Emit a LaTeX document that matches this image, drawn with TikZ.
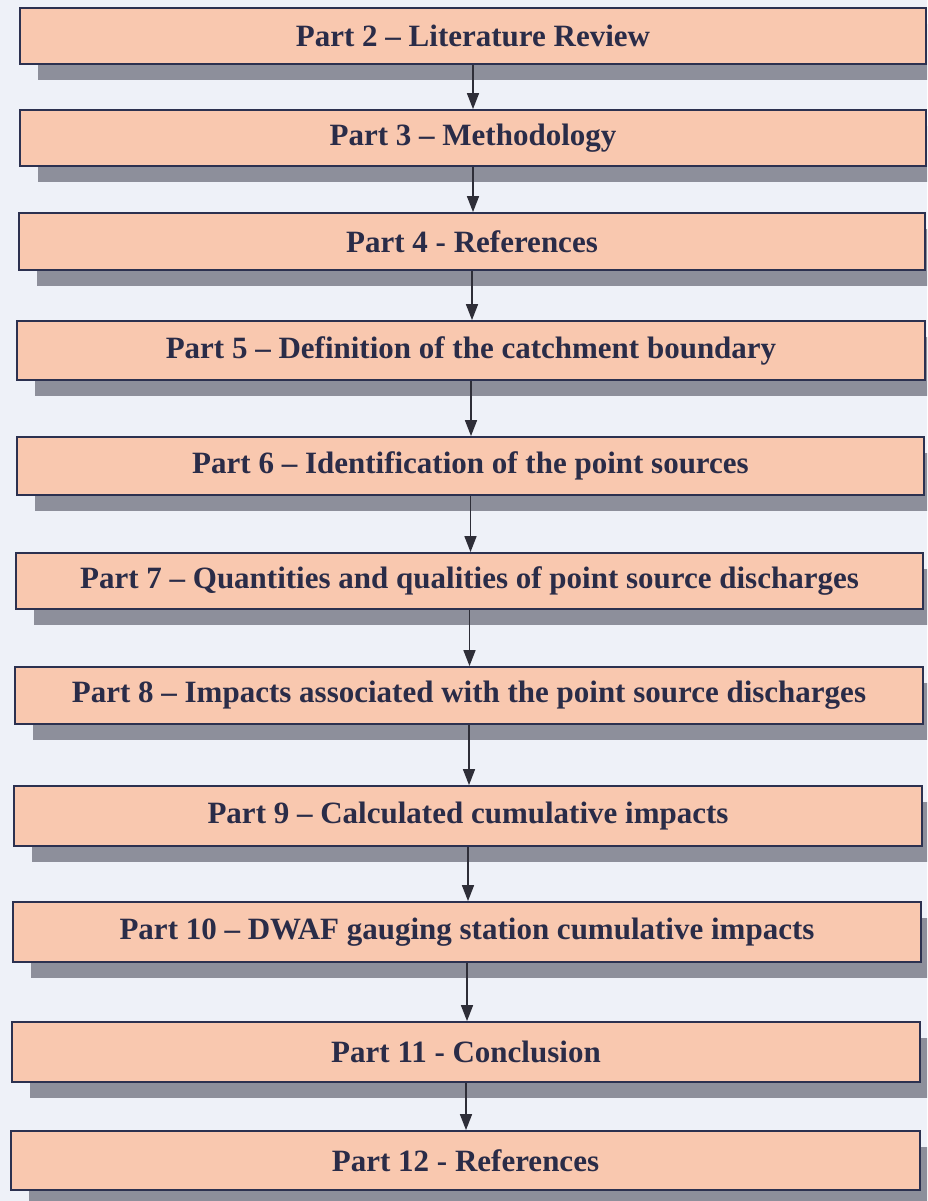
\documentclass[tikz,border=0pt]{standalone}
\usepackage{fontspec}
\usepackage{graphicx}
\setmainfont{Liberation Serif}
\usetikzlibrary{arrows.meta,shadows}
\definecolor{bgc}{HTML}{EEF1F8}
\definecolor{boxfill}{HTML}{F9C8AF}
\definecolor{boxline}{HTML}{2C3150}
\definecolor{shadowc}{HTML}{8D8F9B}
\definecolor{txtc}{HTML}{2A2C48}
\definecolor{arrowc}{HTML}{2E2E38}
\tikzset{
  box/.style={draw=boxline, line width=1.8pt, fill=boxfill, inner sep=0pt,
    text=txtc, font=\fontsize{31}{36}\selectfont\bfseries,
    drop shadow={shadow xshift=18pt, shadow yshift=-16pt, fill=shadowc, opacity=1, draw=none}},
  flow/.style={draw=arrowc, line width=1.5pt, -{Triangle[width=12pt,length=16pt]}}
}
\newcommand{\cond}[1]{\scalebox{1.0}[1]{#1}}
\begin{document}
\begin{tikzpicture}[x=1pt,y=-1pt]
\useasboundingbox (0,0) rectangle (927,1201);
\clip (0,0) rectangle (927,1201);
\fill[bgc] (0,0) rectangle (927,1201);
\foreach \i/\l/\t/\r/\b/\txt in {
  1/20/8/926/64/{Part 2 – Literature Review},
  2/20/110/926/166/{Part 3 – Methodology},
  3/19/213/925/270/{Part 4 - References},
  4/17/321/925/380/{Part 5 – Definition of the catchment boundary},
  5/17/437/924/495/{Part 6 – Identification of the point sources},
  6/16/553/923/609/{Part 7 – Quantities and qualities of point source discharges},
  7/15/667/923/724/{Part 8 – Impacts associated with the point source discharges},
  8/14/786/922/846/{Part 9 – Calculated cumulative impacts},
  9/13/902/921/962/{Part 10 – DWAF gauging station cumulative impacts},
  10/12/1022/920/1082/{Part 11 - Conclusion},
  11/11/1131/920/1190/{Part 12 - References}}{
  \node[box, minimum width={\r-\l}, minimum height={\b-\t}] (b\i) at ({(\l+\r)/2},{(\t+\b)/2}) {\cond{\txt}};
}
\foreach \i [evaluate=\i as \j using int(\i+1)] in {1,...,10}{
  \draw[flow] (b\i.south) -- (b\i.south |- b\j.north);
}
\end{tikzpicture}
\end{document}
